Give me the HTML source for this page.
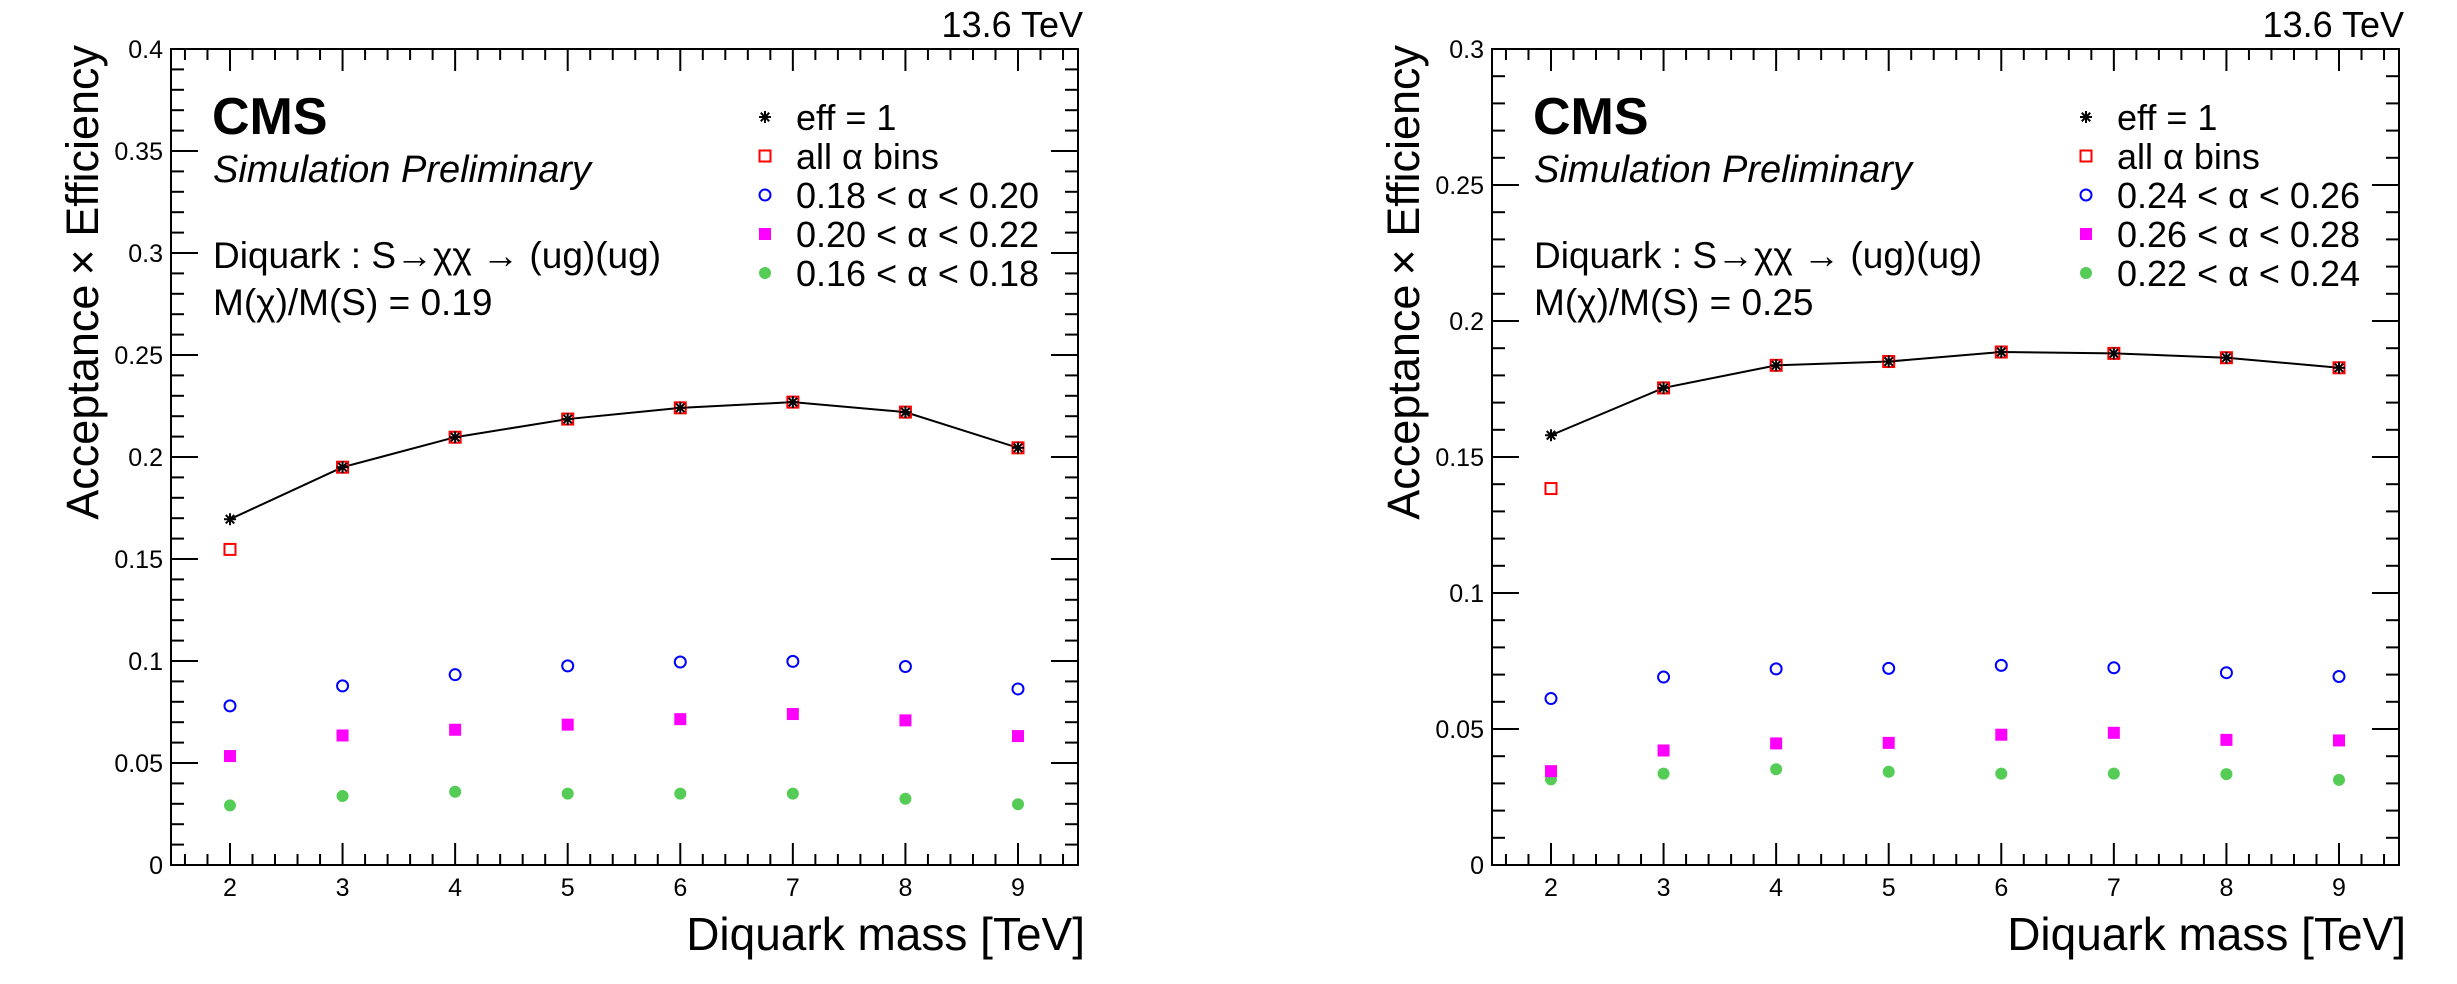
<!DOCTYPE html>
<html><head><meta charset="utf-8"><style>
html,body{margin:0;padding:0;background:#fff;}
svg{display:block;font-family:"Liberation Sans",Arial,sans-serif;}
</style></head><body>
<svg id="chart" width="2457" height="984" viewBox="0 0 2457 984" xmlns="http://www.w3.org/2000/svg"></svg>
<script>
const masses = [2,3,4,5,6,7,8,9];
const xTickLabels = ["2","3","4","5","6","7","8","9"];
// left panel
const leftEff = [0.1695,0.195,0.2097,0.2186,0.2241,0.2269,0.222,0.2045];
const leftAll = [0.1547,0.195,0.2097,0.2186,0.2241,0.2269,0.222,0.2045];
const leftBlue = [0.078,0.0878,0.0933,0.0976,0.0995,0.0998,0.0973,0.0863];
const leftMag = [0.0534,0.0635,0.0663,0.0688,0.0715,0.074,0.0709,0.0632];
const leftGreen = [0.0292,0.0338,0.0359,0.035,0.035,0.035,0.0325,0.0298];
const leftYTicks = [0,0.05,0.1,0.15,0.2,0.25,0.3,0.35,0.4];
const leftYTickLabels = ["0","0.05","0.1","0.15","0.2","0.25","0.3","0.35","0.4"];
const leftLegend = ["eff = 1","all \u03b1 bins","0.18 < \u03b1 < 0.20","0.20 < \u03b1 < 0.22","0.16 < \u03b1 < 0.18"];
// right panel
const rightEff = [0.158,0.1754,0.1837,0.1851,0.1886,0.1881,0.1865,0.1828];
const rightAll = [0.1384,0.1754,0.1837,0.1851,0.1886,0.1881,0.1865,0.1828];
const rightBlue = [0.0612,0.0691,0.0721,0.0723,0.0734,0.0725,0.0707,0.0693];
const rightMag = [0.0345,0.0421,0.0447,0.0449,0.0479,0.0486,0.046,0.0458];
const rightGreen = [0.0315,0.0336,0.0352,0.0343,0.0336,0.0336,0.0334,0.0313];
const rightYTicks = [0,0.05,0.1,0.15,0.2,0.25,0.3];
const rightYTickLabels = ["0","0.05","0.1","0.15","0.2","0.25","0.3"];
const rightLegend = ["eff = 1","all \u03b1 bins","0.24 < \u03b1 < 0.26","0.26 < \u03b1 < 0.28","0.22 < \u03b1 < 0.24"];

const NS="http://www.w3.org/2000/svg";
const svg=document.getElementById('chart');
function mk(tag,attrs,parent){const e=document.createElementNS(NS,tag);for(const k in attrs)e.setAttribute(k,attrs[k]);(parent||svg).appendChild(e);return e;}
function txt(s,attrs,parent){const e=mk('text',attrs,parent);e.textContent=s;return e;}

function marker(g,type,cx,cy){
  let e;
  if(type==='star'){
    e=mk('g',{stroke:'#000','stroke-width':2},g);
    const r=6;
    for(let a=0;a<4;a++){const t=a*Math.PI/4;mk('line',{x1:cx-r*Math.cos(t),y1:cy-r*Math.sin(t),x2:cx+r*Math.cos(t),y2:cy+r*Math.sin(t)},e);}
  } else if(type==='osq'){
    e=mk('rect',{x:cx-5.5,y:cy-5.5,width:11,height:11,fill:'none',stroke:'#ff0000','stroke-width':2},g);
  } else if(type==='ocirc'){
    e=mk('circle',{cx:cx,cy:cy,r:5.5,fill:'none',stroke:'#0000ff','stroke-width':2},g);
  } else if(type==='fsq'){
    e=mk('rect',{x:cx-6,y:cy-6,width:12,height:12,fill:'#ff00ff'},g);
  } else {
    e=mk('circle',{cx:cx,cy:cy,r:6,fill:'#55cc55'},g);
  }
  return e;
}

function panel(ox,ymax,eff,all,blue,mag,green,yTicks,yLabels,legend,ratio){
  const L=ox+171,R=ox+1078,T=49,B=865;
  const xmin=1.476,xmax=9.533;
  const X=v=>L+(v-xmin)/(xmax-xmin)*(R-L);
  const Y=v=>B-v/ymax*(B-T);
  const g=mk('g',{});
  
  
  const fr=mk('rect',{x:L,y:T,width:R-L,height:B-T,fill:'none',stroke:'#000','stroke-width':2},g);
  
  
  const xt=mk('g',{stroke:'#000','stroke-width':2},g);
  
  
  for(let i=8;i<=47;i++){const v=i/5;const x=X(v);const len=(i%5===0)?22:11;
    mk('line',{x1:x,y1:B,x2:x,y2:B-len},xt);mk('line',{x1:x,y1:T,x2:x,y2:T+len},xt);}
  const yt=mk('g',{stroke:'#000','stroke-width':2},g);
  
  
  const nmin=Math.round(ymax/0.01);
  for(let i=0;i<=nmin;i++){const y=Y(i*0.01);const len=(i%5===0)?27:13;
    mk('line',{x1:L,y1:y,x2:L+len,y2:y},yt);mk('line',{x1:R,y1:y,x2:R-len,y2:y},yt);}
  masses.forEach((m,i)=>{const t=txt(xTickLabels[i],{x:X(m),y:896,'font-size':25,'text-anchor':'middle'},g);
    });
  yTicks.forEach((v,i)=>{const t=txt(yLabels[i],{x:L-8,y:Y(v)+9,'font-size':25,'text-anchor':'end'},g);
    });
  const xtitle=txt('Diquark mass [TeV]',{x:R+7,y:950,'font-size':46,'text-anchor':'end'},g);
  
  const ytitle=txt('Acceptance\u2009\u00d7 Efficiency',{x:0,y:0,'font-size':45,'text-anchor':'end',transform:`translate(${ox+98},45) rotate(-90)`},g);
  
  const en=txt('13.6 TeV',{x:R+5,y:37,'font-size':36,'text-anchor':'end'},g);
  
  const cms=txt('CMS',{x:L+41,y:134,'font-size':52,'font-weight':'bold'},g);
  
  const sim=txt('Simulation Preliminary',{x:L+42,y:182,'font-size':38,'font-style':'italic'},g);
  
  const pr=txt('Diquark : S\u2192\u03c7\u03c7 \u2192 (ug)(ug)',{x:L+42,y:268,'font-size':37},g);
  
  const ml=txt('M(\u03c7)/M(S) = '+ratio,{x:L+42,y:315,'font-size':37},g);
  
  const pts=masses.map((m,i)=>X(m)+','+Y(eff[i])).join(' ');
  const pl=mk('polyline',{points:pts,fill:'none',stroke:'#000','stroke-width':2},g);
  
  const series=[[green,'fcirc','green'],[mag,'fsq','magenta'],[blue,'ocirc','blue'],[all,'osq','all-alpha'],[eff,'star','eff']];
  series.forEach(([arr,type,nm])=>{masses.forEach((m,i)=>{const e=marker(g,type,X(m),Y(arr[i]));
    });});
  const types=['star','osq','ocirc','fsq','fcirc'];
  legend.forEach((s,i)=>{const cy=117+i*39;const lg=mk('g',{},g);
    
    marker(lg,types[i],ox+765,cy);txt(s,{x:ox+796,y:cy+13,'font-size':36},lg);});
}
panel(0,0.4,leftEff,leftAll,leftBlue,leftMag,leftGreen,leftYTicks,leftYTickLabels,leftLegend,'0.19');
panel(1321,0.3,rightEff,rightAll,rightBlue,rightMag,rightGreen,rightYTicks,rightYTickLabels,rightLegend,'0.25');
</script>
</body></html>
